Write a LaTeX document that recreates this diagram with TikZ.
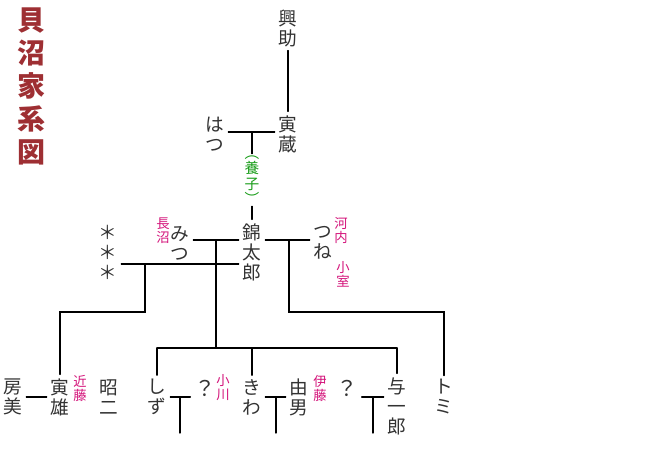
\documentclass[tikz,border=0pt]{standalone}
\usepackage{fontspec}
\newfontfamily\jp{Noto Sans CJK JP}
\definecolor{titlered}{HTML}{9E2F33}
\definecolor{namegray}{HTML}{333333}
\definecolor{clanpink}{HTML}{D4137A}
\definecolor{adoptgreen}{HTML}{1B9E1B}
\tikzset{
  person/.style={font=\jp\fontsize{14}{15}\selectfont,text=namegray,align=center,inner sep=2.5pt},
  clan/.style={font=\jp\fontsize{10}{10.5}\selectfont,text=clanpink,align=center,inner sep=1pt},
}
\begin{document}
\begin{tikzpicture}[x=0.75pt,y=-0.75pt,line width=1pt,line cap=round]
		\fill[white] (0,0) rectangle (671,460);
		\node[font=\jp\bfseries\fontsize{21}{24.75}\selectfont,text=titlered,align=center] (title) at (31,86) {貝\\沼\\家\\系\\図};
		% persons
		\node[person] (kosuke) at (288,28) {興\\助};
		\node[person] (torazo) at (288,134) {寅\\蔵};
		\node[person] (hatsu) at (215,134) {は\\つ};
		\node[font=\jp\fontsize{11}{11.5}\selectfont,text=adoptgreen,align=center,inner sep=1pt] (yoshi) at (252,180) {︵\\養\\子\\︶};
		\node[person] (kin) at (252,252) {錦\\太\\郎};
		\node[person] (mitsu) at (180,243) {み\\つ};
		\node[person] (ast) at (108,252) {＊\\＊\\＊};
		\node[person] (tsune) at (323,243) {つ\\ね};
		\node[person] (fusami) at (13,397) {房\\美};
		\node[person] (torao) at (60,397) {寅\\雄};
		\node[person] (shoji) at (109,397) {昭\\二};
		\node[person] (shizu) at (157,397) {し\\ず};
		\node[person,font=\jp\fontsize{16}{15}\selectfont] (qa) at (205,388) {？};
		\node[person] (kiwa) at (252,397) {き\\わ};
		\node[person] (yoshio) at (299,397) {由\\男};
		\node[person,font=\jp\fontsize{16}{15}\selectfont] (qb) at (347,388) {？};
		\node[person] (yoichi) at (397,406) {与\\一\\郎};
		\node[person] (tomi) at (444,397) {ト\\ミ};
		% maiden names
		\node[clan] (naganuma) at (163,231) {長\\沼};
		\node[clan] (kawachi) at (341,231) {河\\内};
		\node[clan] (komuro) at (343,274) {小\\室};
		\node[clan] (kondo) at (80,388) {近\\藤};
		\node[clan] (ogawa) at (223,388) {小\\川};
		\node[clan] (ito) at (320,388) {伊\\藤};
		% lines
		\draw (kosuke.south) -- (torazo.north);
		\draw (hatsu.east|-0,132) -- (torazo.west|-0,132);
		\draw (252,132) -- (yoshi.north) (yoshi.south) -- (kin.north);
		\draw (mitsu.east|-0,240) -- (kin.west|-0,240);
		\draw (kin.east|-0,240) -- (tsune.west|-0,240);
		\draw (ast.east|-0,264) -- (kin.west|-0,264);
		\draw (216,240) -- (216,348) (157,348) -- (397,348);
		\draw (157,348) -- (shizu.north) (252,348) -- (kiwa.north) (397,348) -- (yoichi.north);
		\draw (145,264) -- (145,312) -- (60,312) -- (torao.north);
		\draw (289,240) -- (289,312) -- (444,312) -- (tomi.north);
		\draw (fusami.east|-0,397) -- (torao.west|-0,397);
		\draw (shizu.east|-0,397) -- (qa.west|-0,397) (180,397) -- (180,433);
		\draw (kiwa.east|-0,397) -- (yoshio.west|-0,397) (276,397) -- (276,433);
		\draw (qb.east|-0,397) -- (yoichi.west|-0,397) (373,397) -- (373,433);
\end{tikzpicture}
\end{document}
